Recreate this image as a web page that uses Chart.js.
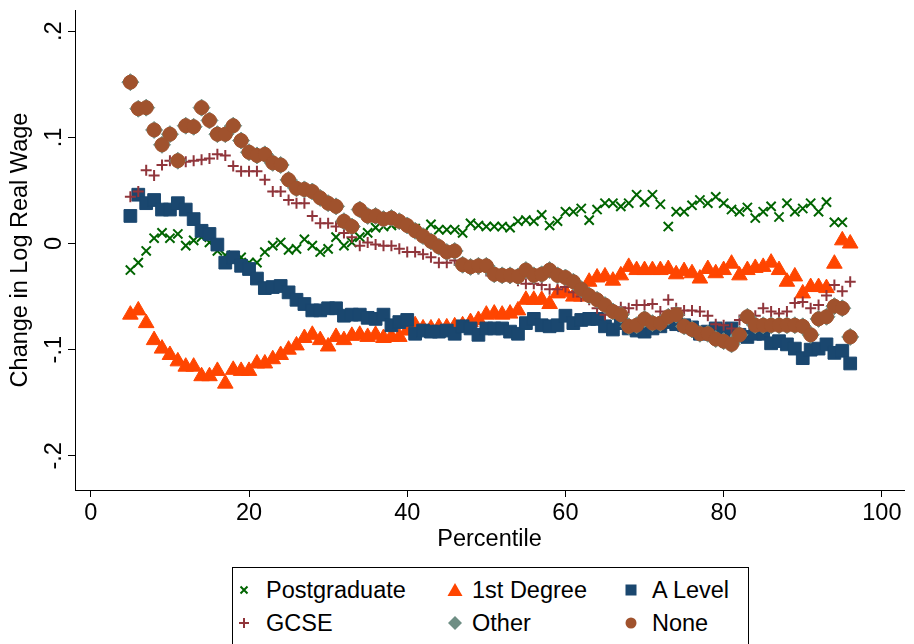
<!DOCTYPE html>
<html lang="en">
<head>
<meta charset="utf-8">
<title>Change in Log Real Wage by Percentile</title>
<script src="https://cdn.jsdelivr.net/npm/chart.js"></script>
<style>
  body { margin: 0; background: #fff; }
  #wrap { position: relative; width: 914px; height: 644px; overflow: hidden;
          font-family: "Liberation Sans", Arial, Helvetica, sans-serif; }
  #chart { position: absolute; left: 0; top: 0; }
  #legend { position: absolute; left: 232px; top: 567px; width: 517px; height: 100px;
            border: 1px solid #000; box-sizing: border-box; background: #fff; }
  #legendMarks { position: absolute; left: 0; top: 0; }
  .lab { position: absolute; font-size: 23.5px; line-height: 30px; color: #000; white-space: nowrap; }
</style>
</head>
<body>
<div id="wrap">
  <canvas id="chart" width="914" height="644"></canvas>
  <div id="legend"></div>
  <svg id="legendMarks" width="914" height="644"></svg>
</div>
<script>
// x categories
const percentile = [5, 6, 7, 8, 9, 10, 11, 12, 13, 14, 15, 16, 17, 18, 19, 20, 21, 22, 23, 24, 25, 26, 27, 28, 29, 30,
  31, 32, 33, 34, 35, 36, 37, 38, 39, 40, 41, 42, 43, 44, 45, 46, 47, 48, 49, 50, 51, 52, 53, 54, 55, 56, 57, 58, 59, 60,
  61, 62, 63, 64, 65, 66, 67, 68, 69, 70, 71, 72, 73, 74, 75, 76, 77, 78, 79, 80, 81, 82, 83, 84, 85, 86, 87, 88, 89, 90,
  91, 92, 93, 94, 95, 96];

// series values, one per percentile
const postgraduate = [-0.025, -0.018, -0.007, 0.005, 0.010, 0.005, 0.009, -0.002, 0.003, 0.006, 0.001, -0.007, -0.011, -0.017, -0.013,
  -0.018, -0.018, -0.008, -0.002, 0.001, -0.006, -0.005, 0.004, -0.002, -0.008, -0.005, 0.006, -0.002, 0.001, 0.006,
  0.010, 0.015, 0.016, 0.017, 0.019, 0.017, 0.014, 0.010, 0.018, 0.013, 0.013, 0.013, 0.010, 0.019, 0.017, 0.016,
  0.016,
  0.016, 0.015, 0.021, 0.022, 0.021, 0.027, 0.017, 0.021, 0.030, 0.030, 0.033, 0.022, 0.032, 0.038, 0.038, 0.035,
  0.038, 0.046, 0.039, 0.046, 0.037, 0.016, 0.030, 0.030, 0.036, 0.041, 0.038, 0.044, 0.038, 0.032, 0.030,
  0.034, 0.024, 0.030, 0.035, 0.025, 0.038, 0.030, 0.033, 0.038, 0.030, 0.039, 0.020, 0.020,
  null];

const firstDegree = [-0.067, -0.063, -0.075, -0.091, -0.099, -0.105, -0.111, -0.116, -0.116, -0.125, -0.125, -0.120, -0.132, -0.119, -0.120,
  -0.120, -0.113, -0.113, -0.109, -0.105, -0.100, -0.096, -0.089, -0.086, -0.091, -0.097, -0.088, -0.091, -0.087, -0.086,
  -0.088, -0.086, -0.089, -0.088, -0.088,
  -0.082, -0.077, -0.080, -0.080, -0.079, -0.079, -0.078, -0.077, -0.074, -0.072, -0.067, -0.066,
  -0.067, -0.066, -0.063, -0.053, -0.053, -0.053, -0.057, -0.047, -0.046, -0.050, -0.050, -0.036, -0.032, -0.031, -0.035,
  -0.030, -0.022, -0.025, -0.025, -0.025, -0.025, -0.024, -0.029, -0.026, -0.028, -0.033, -0.024, -0.028, -0.025,
  -0.019, -0.030, -0.025, -0.023, -0.022, -0.018, -0.025, -0.036, -0.031, -0.047, -0.041, -0.041, -0.042, -0.019, 0.003, 0.000];

const aLevel = [0.026, 0.046, 0.038, 0.041, 0.032, 0.032, 0.038, 0.032, 0.023, 0.012, 0.009, -0.001, -0.018, -0.013, -0.021,
  -0.024, -0.033, -0.042, -0.041, -0.040, -0.046, -0.053, -0.057, -0.063, -0.063, -0.061, -0.061, -0.068, -0.067, -0.067,
  -0.070, -0.071, -0.067, -0.077, -0.074, -0.072,
  -0.085, -0.082, -0.083, -0.083, -0.082, -0.085, -0.078, -0.080, -0.086, -0.080,
  -0.080,
  -0.080, -0.083, -0.085, -0.075, -0.071, -0.077, -0.078, -0.077, -0.068, -0.075, -0.072, -0.071, -0.071, -0.078, -0.081, -0.075,
  -0.080, -0.082, -0.083, -0.080, -0.078, -0.074, -0.076, -0.077, -0.079, -0.085, -0.083, -0.080, -0.082, -0.080, -0.086,
  -0.088, -0.085, -0.085, -0.094, -0.092, -0.095, -0.099, -0.108, -0.100, -0.099, -0.095, -0.103, -0.101, -0.113];

const gcse = [0.044, 0.049, 0.069, 0.064, 0.074, 0.078, 0.078, 0.077, 0.078, 0.079, 0.080, 0.084, 0.083, 0.073, 0.068,
  0.068, 0.068, 0.060, 0.049, 0.049, 0.041, 0.038, 0.038, 0.026, 0.019, 0.019, 0.016, 0.010, 0.006, -0.002,
  0.001, -0.001, -0.002, -0.002, -0.005,
  -0.008, -0.008, -0.010, -0.013, -0.018, -0.018, -0.016, -0.020, -0.022, -0.024, -0.026, -0.029, -0.031, -0.033, -0.035,
  -0.038, -0.038, -0.039, -0.043, -0.043,
  -0.041, -0.046, -0.050, -0.053, -0.061, -0.067, -0.062, -0.060, -0.061, -0.058, -0.058, -0.057, -0.064, -0.053, -0.061,
  -0.063, -0.063, -0.064, -0.068, -0.076,
  -0.077, -0.080, -0.072, -0.070, -0.068, -0.061, -0.064, -0.066, -0.064, -0.056, -0.055, -0.061, -0.058, -0.049, -0.039, -0.045, -0.036];

const other = [0.152, 0.127, 0.128, 0.107, 0.093, 0.103, 0.078, 0.111, 0.110, 0.128, 0.116, 0.103, 0.103, 0.111, 0.097,
  0.086, 0.083, 0.084, 0.076, 0.074, 0.060, 0.052, 0.051, 0.049, 0.043, 0.038, 0.035, 0.021, 0.016, 0.032,
  0.026, 0.026, 0.023, 0.024, 0.021,
  0.017, 0.012, 0.007, 0.002, -0.003, -0.008, -0.007, -0.020, -0.022, -0.021, -0.021, -0.029, -0.030, -0.030, -0.031,
  -0.025, -0.030, -0.029, -0.025, -0.030,
  -0.032, -0.036, -0.043, -0.049, -0.053, -0.058, -0.064, -0.067, -0.078, -0.077, -0.071, -0.075, -0.075, -0.069, -0.067,
  -0.078, -0.081, -0.085, -0.085, -0.090,
  -0.092, -0.095, -0.086, -0.069, -0.077, -0.077, -0.077, -0.077, -0.077, -0.077, -0.078, -0.086, -0.071, -0.069, -0.059, -0.061, -0.088];

const none = [0.152, 0.127, 0.128, 0.107, 0.093, 0.103, 0.078, 0.111, 0.110, 0.128, 0.116, 0.103, 0.103, 0.111, 0.097,
  0.086, 0.083, 0.084, 0.076, 0.074, 0.060, 0.052, 0.051, 0.049, 0.043, 0.038, 0.035, 0.021, 0.016, 0.032,
  0.026, 0.026, 0.023, 0.024, 0.021,
  0.017, 0.012, 0.007, 0.002, -0.003, -0.008, -0.007, -0.020, -0.022, -0.021, -0.021, -0.029, -0.030, -0.030, -0.031,
  -0.025, -0.030, -0.029, -0.025, -0.030,
  -0.032, -0.036, -0.043, -0.049, -0.053, -0.058, -0.064, -0.067, -0.078, -0.077, -0.071, -0.075, -0.075, -0.069, -0.067,
  -0.078, -0.081, -0.085, -0.085, -0.090,
  -0.092, -0.095, -0.086, -0.069, -0.077, -0.077, -0.077, -0.077, -0.077, -0.077, -0.078, -0.086, -0.071, -0.069, -0.059, -0.061, -0.088];

// axis ticks
const xTicks = [0, 20, 40, 60, 80, 100];
const yTicks = [-0.2, -0.1, 0, 0.1, 0.2];
const yTickLabels = ['-.2', '-.1', '0', '.1', '.2'];

const family = '"Liberation Sans", Arial, Helvetica, sans-serif';
const fontSize = 23.5;

// look of each series, in legend order; lower "order" is drawn on top
const series = [
  { label: 'Postgraduate', values: postgraduate, color: '#006400', style: 'crossRot', radius: 6.5, line: 2, order: 6 },
  { label: '1st Degree', values: firstDegree, color: '#ff4500', style: 'triangle', radius: 9, line: 1, order: 5 },
  { label: 'A Level', values: aLevel, color: '#1a476f', style: 'rect', radius: 9, line: 1, order: 4 },
  { label: 'GCSE', values: gcse, color: '#90353b', style: 'cross', radius: 5.5, line: 2, order: 3 },
  { label: 'Other', values: other, color: '#6e8e84', style: 'rectRot', radius: 8.5, line: 1, order: 2 },
  { label: 'None', values: none, color: '#a0522d', style: 'circle', radius: 7, line: 1, order: 1 }
];

const datasets = series.map(s => ({
  label: s.label,
  data: percentile.map((p, i) => ({ x: p, y: s.values[i] })).filter(d => d.y !== null),
  pointStyle: s.style,
  pointRadius: s.radius,
  pointBorderWidth: s.line,
  pointBackgroundColor: s.color,
  pointBorderColor: s.color,
  order: s.order
}));

new Chart(document.getElementById('chart'), {
  type: 'scatter',
  data: { datasets: datasets },
  options: {
    responsive: false,
    animation: false,
    events: [],
    layout: { padding: { top: 5, right: 9, bottom: 90, left: 6 } },
    plugins: { legend: { display: false }, tooltip: { enabled: false } },
    scales: {
      x: {
        type: 'linear',
        min: -2,
        max: 102.8,
        afterBuildTicks: s => { s.ticks = xTicks.map(v => ({ value: v })); },
        afterFit: s => { s.height = 64; s.paddingLeft = 0; s.paddingRight = 0; },
        grid: { drawOnChartArea: false, tickLength: 7, color: '#000', tickColor: '#000' },
        border: { color: '#000', width: 1 },
        ticks: { color: '#000', font: { size: fontSize, family: family }, padding: 2, maxRotation: 0, autoSkip: false },
        title: { display: true, text: 'Percentile', color: '#000', font: { size: fontSize, family: family }, padding: 0 }
      },
      y: {
        type: 'linear',
        min: -0.2322,
        max: 0.2200,
        afterBuildTicks: s => { s.ticks = yTicks.map(v => ({ value: v })); },
        afterFit: s => { s.width = 69; s.paddingTop = 0; s.paddingBottom = 0; },
        grid: { drawOnChartArea: false, tickLength: 7, color: '#000', tickColor: '#000' },
        border: { color: '#000', width: 1 },
        ticks: {
          color: '#000', font: { size: fontSize, family: family }, padding: 0,
          minRotation: 90, maxRotation: 90, crossAlign: 'center', autoSkip: false,
          callback: (v, i) => yTickLabels[i]
        },
        title: { display: true, text: 'Change in Log Real Wage', color: '#000', font: { size: fontSize, family: family }, padding: 0 }
      }
    }
  }
});

// legend: 3 columns x 2 rows, same order as Stata
const legCols = [{ mark: 244, text: 266 }, { mark: 455, text: 472 }, { mark: 631, text: 652 }];
const legRows = [590, 623];
const svgNS = 'http://www.w3.org/2000/svg';
const marks = document.getElementById('legendMarks');
const wrap = document.getElementById('wrap');

function legendMark(style, color, cx, cy) {
  let el;
  if (style === 'crossRot' || style === 'cross') {
    el = document.createElementNS(svgNS, 'path');
    const d = style === 'crossRot'
      ? `M${cx - 3.5} ${cy - 3.5}L${cx + 3.5} ${cy + 3.5}M${cx - 3.5} ${cy + 3.5}L${cx + 3.5} ${cy - 3.5}`
      : `M${cx - 5} ${cy}L${cx + 5} ${cy}M${cx} ${cy - 5}L${cx} ${cy + 5}`;
    el.setAttribute('d', d);
    el.setAttribute('stroke', color);
    el.setAttribute('stroke-width', 2);
    el.setAttribute('fill', 'none');
  } else if (style === 'triangle') {
    el = document.createElementNS(svgNS, 'polygon');
    el.setAttribute('points', `${cx},${cy - 7} ${cx - 7.5},${cy + 6} ${cx + 7.5},${cy + 6}`);
    el.setAttribute('fill', color);
  } else if (style === 'rect') {
    el = document.createElementNS(svgNS, 'rect');
    el.setAttribute('x', cx - 5.5); el.setAttribute('y', cy - 5.5);
    el.setAttribute('width', 11); el.setAttribute('height', 11);
    el.setAttribute('fill', color);
  } else if (style === 'rectRot') {
    el = document.createElementNS(svgNS, 'polygon');
    el.setAttribute('points', `${cx},${cy - 7} ${cx + 7},${cy} ${cx},${cy + 7} ${cx - 7},${cy}`);
    el.setAttribute('fill', color);
  } else {
    el = document.createElementNS(svgNS, 'circle');
    el.setAttribute('cx', cx); el.setAttribute('cy', cy); el.setAttribute('r', 5.5);
    el.setAttribute('fill', color);
  }
  marks.appendChild(el);
}

series.forEach((s, i) => {
  const col = legCols[i % 3];
  const row = legRows[Math.floor(i / 3)];
  legendMark(s.style, s.color, col.mark, row);
  const lab = document.createElement('div');
  lab.className = 'lab';
  lab.style.left = col.text + 'px';
  lab.style.top = (row - 15) + 'px';
  lab.textContent = s.label;
  wrap.appendChild(lab);
});
</script>
</body>
</html>
